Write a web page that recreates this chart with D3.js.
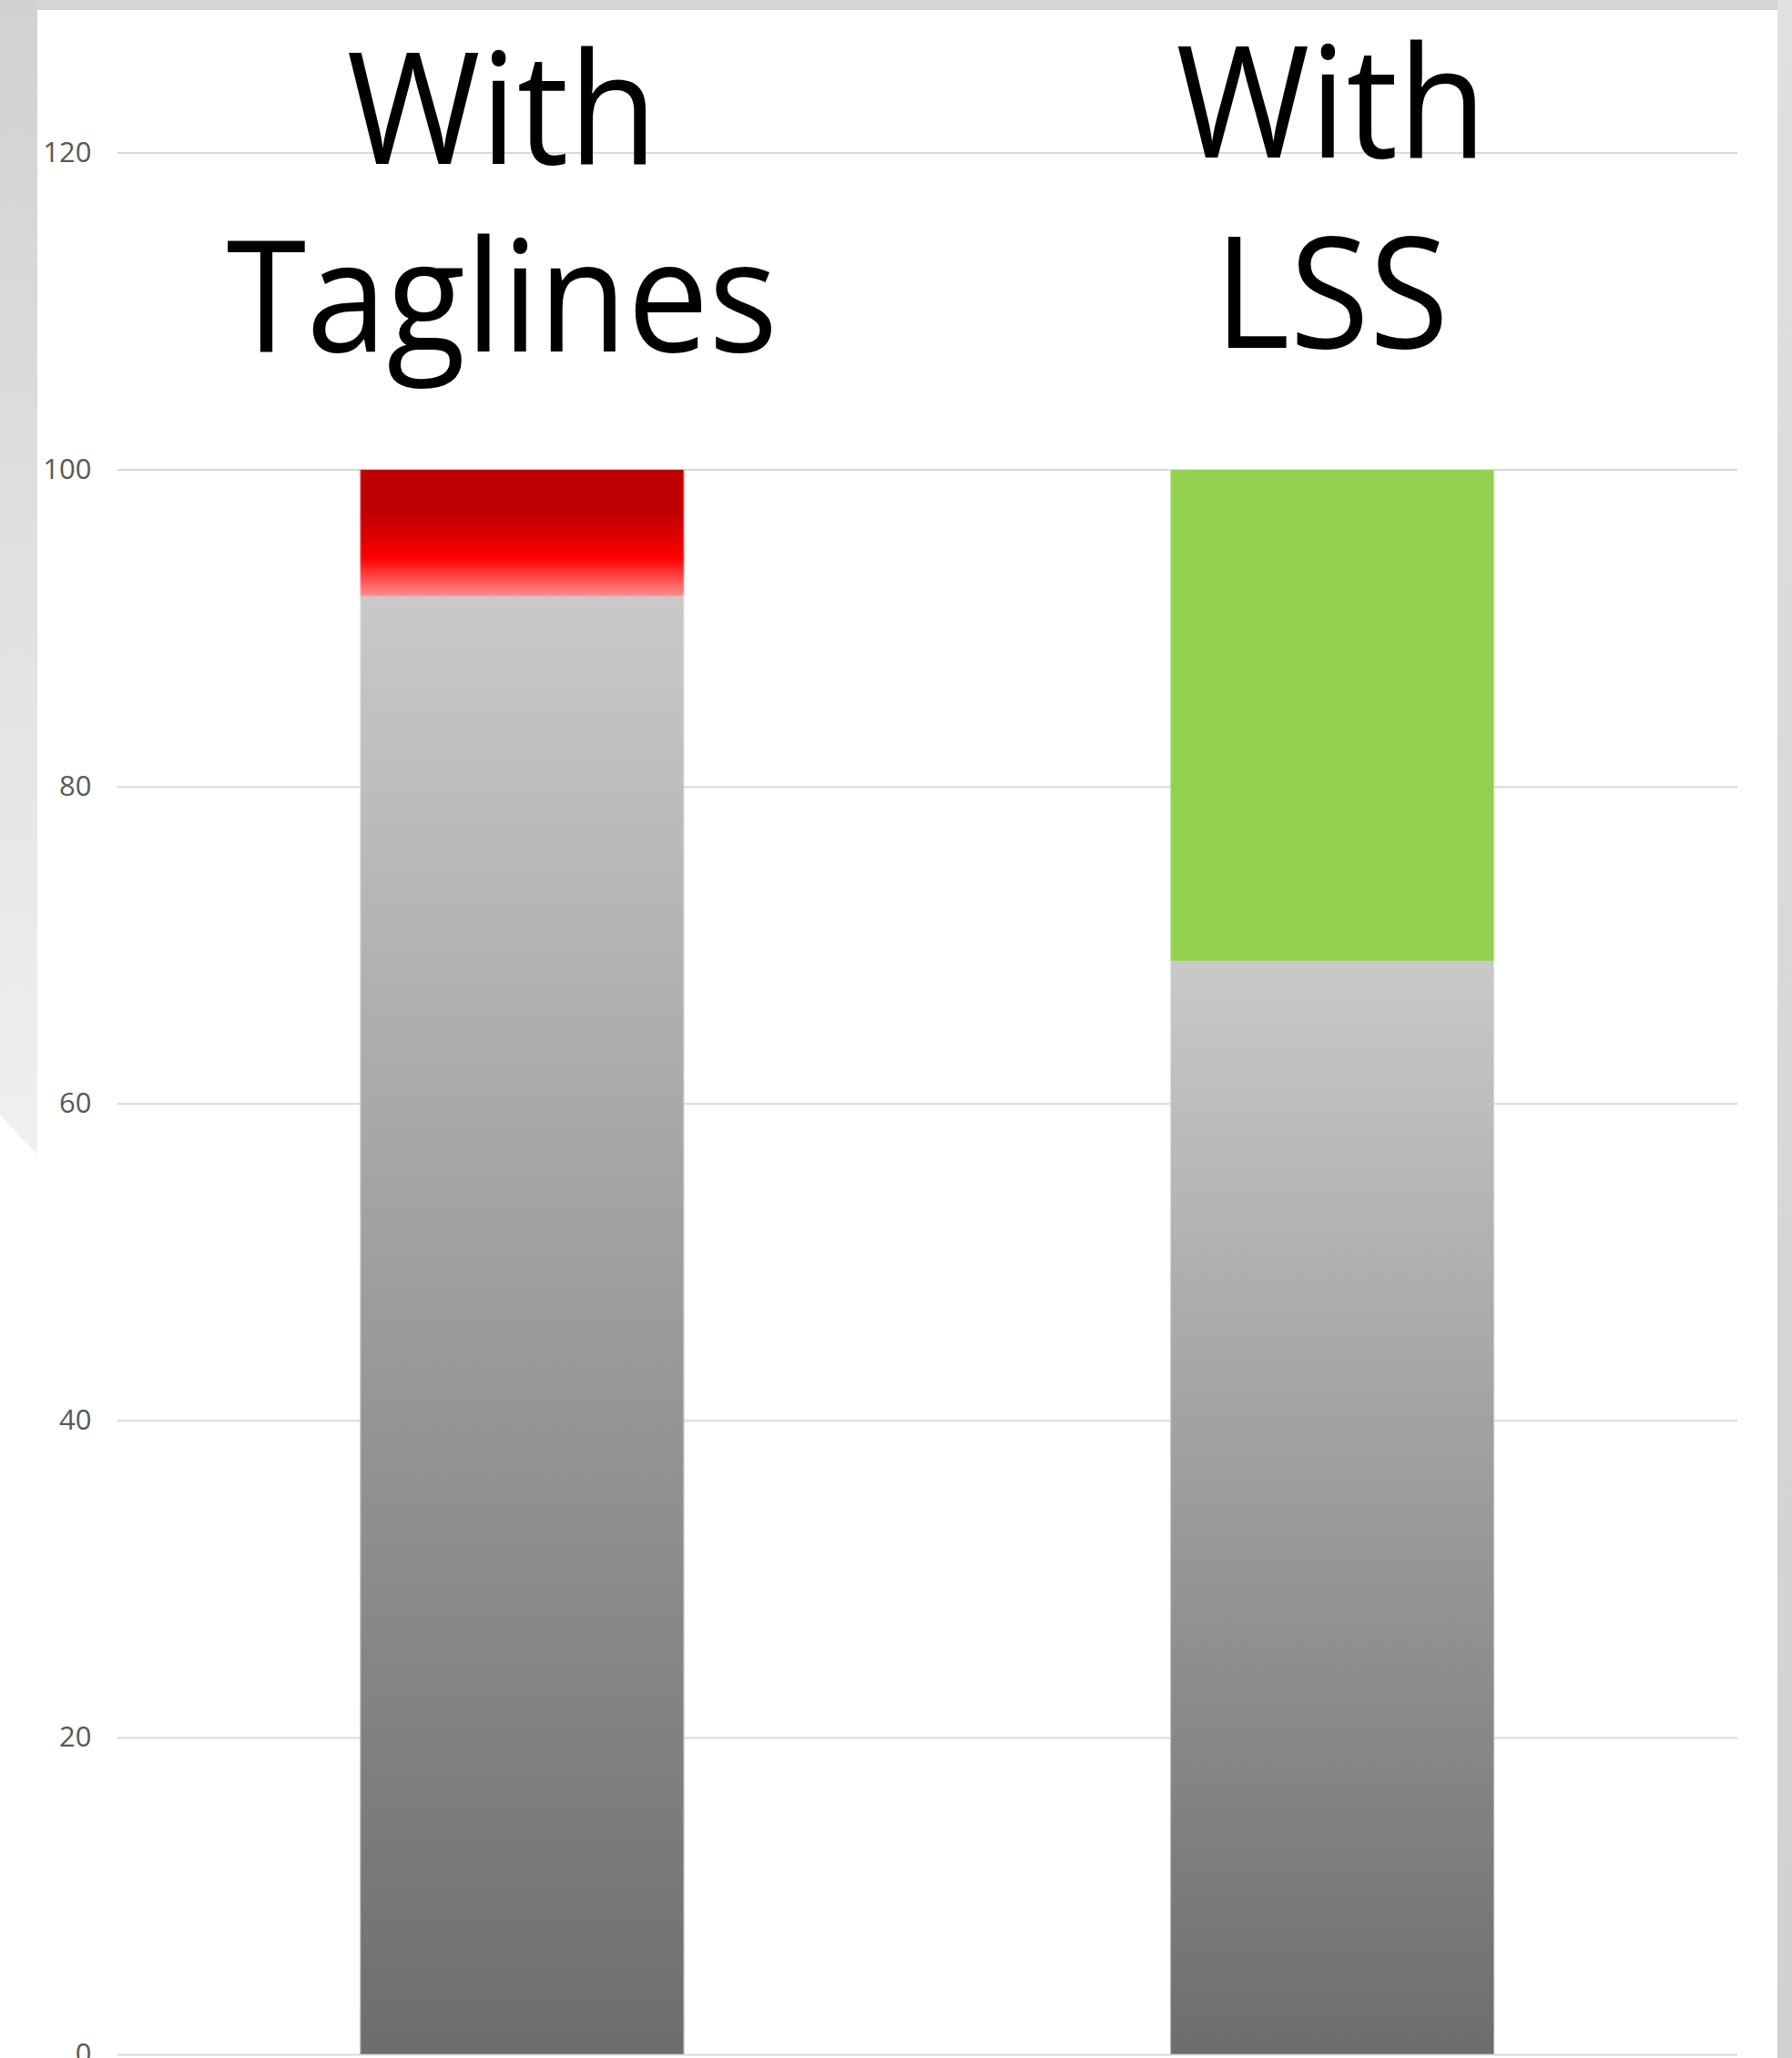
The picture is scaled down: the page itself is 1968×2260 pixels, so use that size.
<!DOCTYPE html>
<html>
<head>
<meta charset="utf-8">
<script src="https://cdn.jsdelivr.net/npm/d3@7"></script>
<style>
  body { margin: 0; background: #fff; }
  svg { display: block; }
</style>
</head>
<body>
<svg id="chart"></svg>
<script>
// data
var categories = ["With Taglines", "With LSS"];
var labelLines = [["With", "Taglines"], ["With", "LSS"]];
var baseValues = [92, 69];   // grey part
var topValues = [8, 31];     // coloured part on top
var tickValues = [0, 20, 40, 60, 80, 100, 120];

var W = 1968, H = 2260;
var plot = {left: 128.5, right: 1908, top: 167.5, bottom: 2256};

var svg = d3.select("#chart")
    .attr("width", W)
    .attr("height", H);

var defs = svg.append("defs");

function gradient(id, stops) {
  var g = defs.append("linearGradient")
      .attr("id", id)
      .attr("x1", 0).attr("y1", 0)
      .attr("x2", 0).attr("y2", 1);
  stops.forEach(function(s) {
    g.append("stop").attr("offset", s[0]).attr("stop-color", s[1]);
  });
}

gradient("greyFill", [["0%", "#c9c9c9"], ["100%", "#6d6d6d"]]);
gradient("redFill", [["0%", "#c00000"], ["35%", "#c00000"], ["70%", "#ff0000"], ["100%", "#ff9090"]]);
gradient("leftFrame", [["0%", "#d0d1d3"], ["100%", "#f0f0f0"]]);
gradient("rightFrame", [["0%", "#dfe0e2"], ["100%", "#cfd0d2"]]);

// slide frame behind the chart
svg.append("rect").attr("width", W).attr("height", H).attr("fill", "#fff");
svg.append("rect").attr("x", 0).attr("y", 0).attr("width", W).attr("height", 11).attr("fill", "#d4d5d7");
svg.append("path")
    .attr("d", "M0,0 L41,0 L41,1268 L0,1225 Z")
    .attr("fill", "url(#leftFrame)");
svg.append("rect").attr("x", 1952).attr("y", 0).attr("width", 16).attr("height", H)
    .attr("fill", "url(#rightFrame)");
svg.append("rect").attr("x", 41).attr("y", 11).attr("width", 1911).attr("height", H - 11)
    .attr("fill", "#fff");

var x = d3.scaleBand()
    .domain(categories)
    .range([plot.left, plot.right])
    .paddingInner(0.6)
    .paddingOuter(0.3);

var y = d3.scaleLinear()
    .domain([0, 120])
    .range([plot.bottom, plot.top]);

// gridlines + tick labels
var yAxis = d3.axisLeft(y)
    .tickValues(tickValues)
    .tickSize(-(plot.right - plot.left))
    .tickPadding(28);

var gy = svg.append("g")
    .attr("transform", "translate(" + plot.left + ",0)")
    .call(yAxis);

gy.select(".domain").remove();
gy.selectAll(".tick line")
    .attr("stroke", "#d9d9d9")
    .attr("stroke-width", 2);
gy.selectAll(".tick text")
    .attr("fill", "#595959")
    .style("font-family", "'Open Sans', sans-serif")
    .style("font-size", "31px");

var rows = categories.map(function(c, i) {
  return {cat: c, base: baseValues[i], top: topValues[i], lines: labelLines[i]};
});

var topFills = ["url(#redFill)", "#92d050"];

var bars = svg.append("g");

bars.selectAll(".base")
    .data(rows)
    .enter()
    .append("rect")
    .attr("class", "base")
    .attr("x", (d) => x(d.cat))
    .attr("width", x.bandwidth())
    .attr("y", (d) => y(d.base))
    .attr("height", (d) => y(0) - y(d.base))
    .attr("fill", "url(#greyFill)");

bars.selectAll(".top")
    .data(rows)
    .enter()
    .append("rect")
    .attr("class", "top")
    .attr("x", (d) => x(d.cat))
    .attr("width", x.bandwidth())
    .attr("y", (d) => y(d.base + d.top))
    .attr("height", (d) => y(d.base) - y(d.base + d.top))
    .attr("fill", (d, i) => topFills[i]);

// faint edge on the bars
bars.selectAll(".edge")
    .data(rows)
    .enter()
    .append("rect")
    .attr("class", "edge")
    .attr("x", (d) => x(d.cat) + 0.5)
    .attr("width", x.bandwidth() - 1)
    .attr("y", (d) => y(d.base + d.top))
    .attr("height", (d) => y(0) - y(d.base + d.top))
    .attr("fill", "none")
    .attr("stroke", "#ffffff")
    .attr("stroke-opacity", 0.45)
    .attr("stroke-width", 1);

// big category labels above the bars, two lines each
var labelShift = [{dx: -22, y1: 180, y2: 386}, {dx: -1, y1: 173, y2: 382}];

var labels = svg.append("g")
    .selectAll("text")
    .data(rows)
    .enter()
    .append("text")
    .attr("transform", (d, i) => "translate(" + (x(d.cat) + x.bandwidth() / 2 + labelShift[i].dx) + ",0) scale(0.93,1)")
    .attr("text-anchor", "middle")
    .attr("fill", "#000")
    .style("font-family", "'Open Sans', sans-serif")
    .style("font-size", "171px");

labels.each(function(d, i) {
  var t = d3.select(this);
  d.lines.forEach(function(line, j) {
    t.append("tspan")
        .attr("x", 0)
        .attr("y", j === 0 ? labelShift[i].y1 : labelShift[i].y2)
        .text(line);
  });
});
</script>
</body>
</html>
